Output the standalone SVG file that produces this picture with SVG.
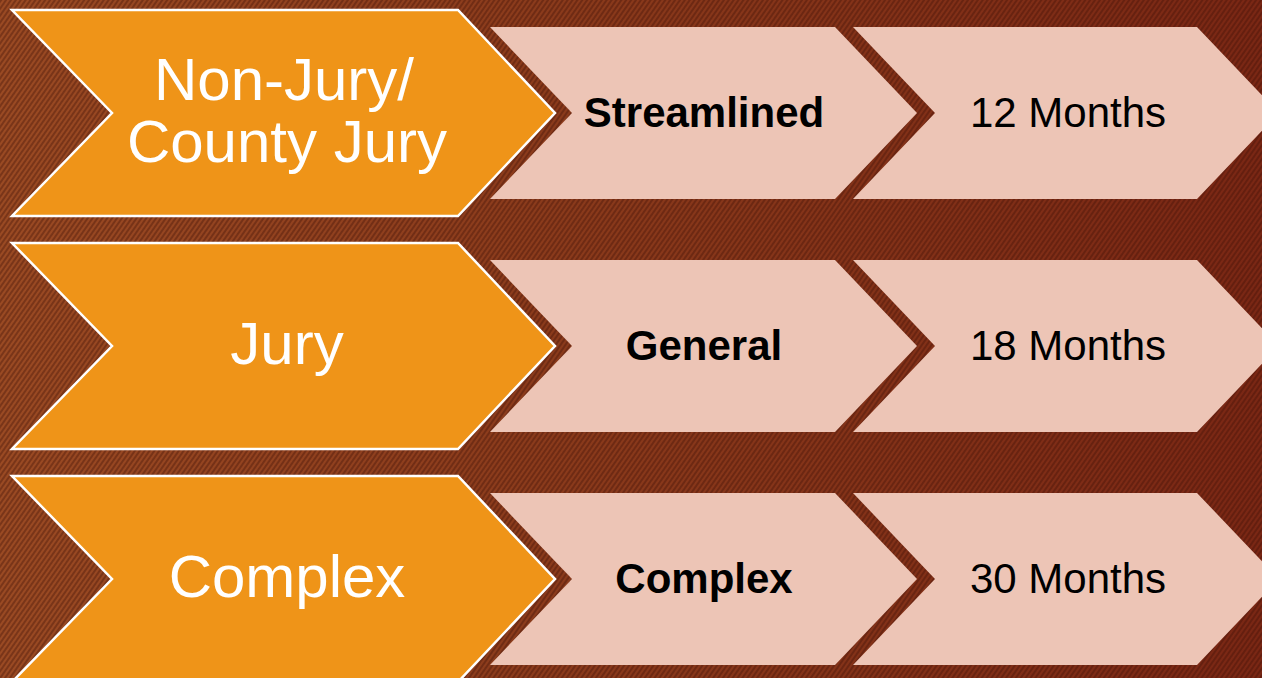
<svg xmlns="http://www.w3.org/2000/svg" width="1262" height="678" viewBox="0 0 1262 678">
  <defs>
    <linearGradient id="bgGrad" x1="0" y1="0" x2="1" y2="0">
      <stop offset="0" stop-color="#9a4a23"/>
      <stop offset="0.45" stop-color="#8a3a1b"/>
      <stop offset="1" stop-color="#7a2714"/>
    </linearGradient>
    <pattern id="stripes" width="4" height="4" patternUnits="userSpaceOnUse" patternTransform="rotate(-55)">
      <rect x="0" y="0" width="4" height="2" fill="#3c0f05" fill-opacity="0.35"/>
    </pattern>
    <polygon id="orangeShape" points="12,-103 458,-103 555,0 458,103 12,103 112,0"/>
    <polygon id="pinkMid" points="490,-86 835,-86 917,0 835,86 490,86 572,0"/>
    <polygon id="pinkRight" points="853,-86 1197,-86 1279,0 1197,86 853,86 935,0"/>
    <clipPath id="pinkClip" clipPathUnits="userSpaceOnUse">
      <use href="#pinkMid"/>
    </clipPath>
    <filter id="soft" x="-10%" y="-10%" width="120%" height="120%">
      <feGaussianBlur stdDeviation="1.5"/>
    </filter>
  </defs>
  <style>
    .orange { fill: #ef9418; stroke: #ffffff; stroke-width: 2.5; stroke-linejoin: miter; }
    .pink { fill: #edc5b6; }
    .tipShadow { fill: none; stroke: #6a2210; stroke-width: 16; stroke-linejoin: miter; }
    .lbl { font-family: "Liberation Sans", Arial, sans-serif; font-size: 60px; fill: #ffffff; text-anchor: middle; }
    .mid { font-family: "Liberation Sans", Arial, sans-serif; font-size: 42px; font-weight: bold; fill: #000000; text-anchor: middle; }
    .dur { font-family: "Liberation Sans", Arial, sans-serif; font-size: 42px; fill: #000000; text-anchor: middle; }
  </style>

  <g id="background">
    <rect x="0" y="0" width="1262" height="678" fill="url(#bgGrad)"/>
    <rect x="0" y="0" width="1262" height="678" fill="url(#stripes)"/>
  </g>

  <g id="row1" transform="translate(0,113)">
    <g id="row1-duration">
      <use href="#pinkRight" class="pink"/>
      <text class="dur" x="1068" y="14">12 Months</text>
    </g>
    <g id="row1-track">
      <use href="#pinkMid" class="pink"/>
      <g clip-path="url(#pinkClip)">
        <polygon class="tipShadow" filter="url(#soft)" points="440,-103 558,0 440,103"/>
      </g>
      <text class="mid" x="704" y="14">Streamlined</text>
    </g>
    <g id="row1-type">
      <use href="#orangeShape" class="orange"/>
      <text class="lbl" x="284" y="-13">Non-Jury/</text>
      <text class="lbl" x="287" y="49">County Jury</text>
    </g>
  </g>

  <g id="row2" transform="translate(0,346)">
    <g id="row2-duration">
      <use href="#pinkRight" class="pink"/>
      <text class="dur" x="1068" y="14">18 Months</text>
    </g>
    <g id="row2-track">
      <use href="#pinkMid" class="pink"/>
      <g clip-path="url(#pinkClip)">
        <polygon class="tipShadow" filter="url(#soft)" points="440,-103 558,0 440,103"/>
      </g>
      <text class="mid" x="704" y="14">General</text>
    </g>
    <g id="row2-type">
      <use href="#orangeShape" class="orange"/>
      <text class="lbl" x="287" y="18">Jury</text>
    </g>
  </g>

  <g id="row3" transform="translate(0,579)">
    <g id="row3-duration">
      <use href="#pinkRight" class="pink"/>
      <text class="dur" x="1068" y="14">30 Months</text>
    </g>
    <g id="row3-track">
      <use href="#pinkMid" class="pink"/>
      <g clip-path="url(#pinkClip)">
        <polygon class="tipShadow" filter="url(#soft)" points="440,-103 558,0 440,103"/>
      </g>
      <text class="mid" x="704" y="14">Complex</text>
    </g>
    <g id="row3-type">
      <use href="#orangeShape" class="orange"/>
      <text class="lbl" x="287" y="18">Complex</text>
    </g>
  </g>

  <g id="connectors"/>
</svg>
